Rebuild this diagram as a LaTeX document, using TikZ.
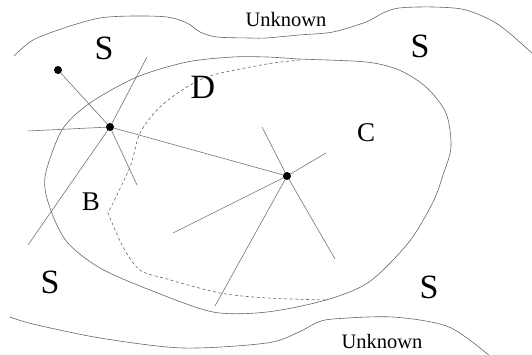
\documentclass[tikz,border=0pt]{standalone}
\usepackage{fontspec}
\setmainfont{Liberation Serif}
\usetikzlibrary{positioning}

\begin{document}
\begin{tikzpicture}[
  x=1pt, y=-1pt,
  dot/.style={circle, fill=black, inner sep=0pt, minimum size=8pt},
  ray/.style={black!55, line width=0.6pt},
  bound/.style={black!60, line width=0.6pt},
  sep/.style={bound, dash pattern=on 3pt off 2.5pt},
  big/.style={font=\fontsize{34}{34}\selectfont},
  mid/.style={font=\fontsize{27}{27}\selectfont},
  small/.style={font=\fontsize{20.5}{20.5}\selectfont},
]
\useasboundingbox (0,0) rectangle (532,355);

% Region boundaries
\draw[bound] plot[smooth] coordinates {(14,56) (33,40) (67,27) (100,18)
  (133,16) (167,17) (187,23) (200,32) (217,37) (250,38) (266,38) (299,35)
  (333,32) (366,22) (383,13) (399,8) (433,7) (466,10) (499,25) (534,55)};
\draw[bound] plot[smooth] coordinates {(10,317) (33,324) (100,338)
  (183,348) (267,343) (299,332) (316,323) (333,319) (393,317) (449,327)
  (491,357)};
\draw[bound] plot[smooth cycle] coordinates {(267,57) (300,59) (366,62)
  (399,70) (426,87) (446,113) (451,147) (443,175) (433,202) (409,242)
  (369,282) (326,300) (267,312) (213,312) (150,290) (100,268) (67,242)
  (50,208) (45,177) (62,130) (90,103) (137,77) (187,62) (233,57)};
\draw[sep] plot[smooth] coordinates {(300,60) (267,64) (213,75) (187,87)
  (160,107) (140,133) (130,167) (108,213)}
  -- plot[smooth] coordinates {(108,213) (123,247) (140,270) (167,279)
  (220,293) (267,298) (326,300)};

% Region labels
\node[big] (s1) at (104,48) {S};
\node[big] (s2) at (420,46) {S};
\node[big] (s3) at (50,282) {S};
\node[big] (s4) at (429,287) {S};
\node[big] (d) at (203,87) {D};
\node[mid] (c) at (366,133) {C};
\node[mid] (b) at (91,202) {B};
\node[small] (u1) at (286,19) {Unknown};
\node[small] (u2) at (382,341) {Unknown};

% Sensors
\coordinate (a1) at (147,57);
\coordinate (a2) at (28,245);
\coordinate (a3) at (28,131);
\coordinate (a4) at (137,185);
\coordinate (b1) at (262,127);
\coordinate (b2) at (326,153);
\coordinate (b3) at (335,259);
\coordinate (b4) at (215,306);
\coordinate (b5) at (173,233);

\coordinate (c1) at (58,70);
\coordinate (c2) at (110,127);
\coordinate (c3) at (287,176);

% Rays
\draw[ray] (c2) -- (c1);
\draw[ray] (c2) -- (c3);
\foreach \e in {a1,a2,a3,a4} \draw[ray] (c2) -- (\e);
\foreach \e in {b1,b2,b3,b4,b5} \draw[ray] (c3) -- (\e);

\node[dot] (p1) at (c1) {};
\node[dot] (p2) at (c2) {};
\node[dot] (p3) at (c3) {};
\end{tikzpicture}
\end{document}
